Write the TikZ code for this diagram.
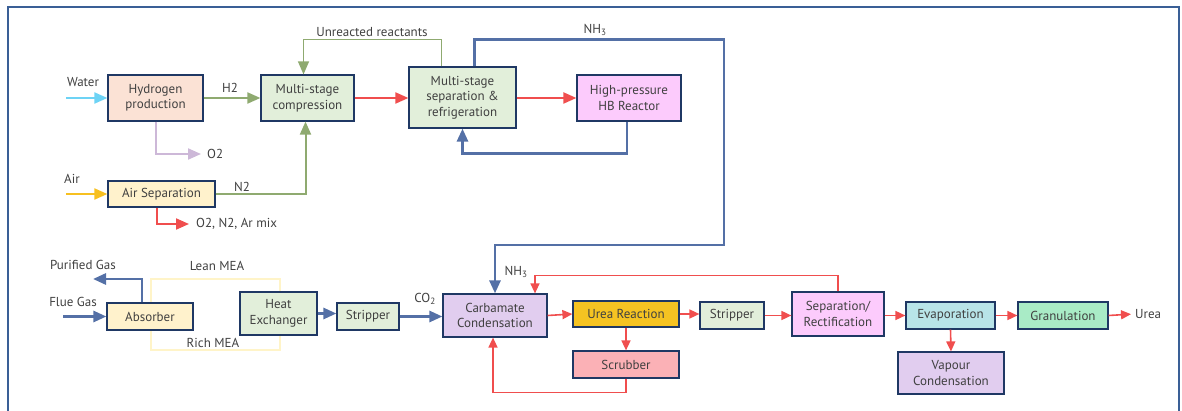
\documentclass[tikz,border=0pt]{standalone}
\usepackage{fontspec}
\setmainfont{PT Sans}
\usepackage{xcolor}
\usepackage{tikz}
\usetikzlibrary{arrows.meta,calc,positioning}
\definecolor{ureaNavy}{HTML}{1F3864}
\definecolor{ureaText}{HTML}{404040}
\definecolor{ureaFrame}{HTML}{3A5F96}
\definecolor{ureaGreen}{HTML}{8FAA70}
\definecolor{ureaRed}{HTML}{F04E4E}
\definecolor{ureaBlue}{HTML}{5470A6}
\definecolor{ureaCyan}{HTML}{6DD3F5}
\definecolor{ureaYellow}{HTML}{F7C020}
\definecolor{ureaLilac}{HTML}{CDB8D8}
\definecolor{ureaMea}{HTML}{FFF4C8}
\definecolor{fillPeach}{HTML}{FBE2D5}
\definecolor{fillGreen}{HTML}{E2EFDA}
\definecolor{fillPink}{HTML}{FCCBFC}
\definecolor{fillCream}{HTML}{FFF2CC}
\definecolor{fillLavender}{HTML}{E1CDEF}
\definecolor{fillGold}{HTML}{F5C322}
\definecolor{fillSalmon}{HTML}{FBB1B6}
\definecolor{fillTeal}{HTML}{B8E4E8}
\definecolor{fillMint}{HTML}{A9EBC6}
\tikzset{
  unit box/.style={draw=ureaNavy, line width=1.2pt, align=center,
    inner sep=0pt, text=ureaText, font=\fontsize{13}{15.5}\selectfont},
  peach box/.style={unit box, fill=fillPeach},
  green box/.style={unit box, fill=fillGreen},
  pink box/.style={unit box, fill=fillPink},
  cream box/.style={unit box, fill=fillCream},
  lavender box/.style={unit box, fill=fillLavender},
  gold box/.style={unit box, fill=fillGold},
  salmon box/.style={unit box, fill=fillSalmon},
  teal box/.style={unit box, fill=fillTeal},
  mint box/.style={unit box, fill=fillMint},
  stream label/.style={text=ureaText, inner sep=1pt,
    font=\fontsize{13}{15}\selectfont},
  big tip/.style={-{Triangle[length=13pt,width=11pt]}},
  small tip/.style={-{Triangle[length=10pt,width=9pt]}},
  gas flow/.style={big tip, line width=2pt, draw=ureaGreen, color=ureaGreen},
  hot flow/.style={big tip, line width=2pt, draw=ureaRed, color=ureaRed},
  liquid flow/.style={small tip, line width=1.6pt, draw=ureaRed, color=ureaRed},
  ammonia flow/.style={big tip, line width=2.8pt, draw=ureaBlue, color=ureaBlue},
  frame line/.style={line width=1.5pt, draw=ureaFrame}
}
\begin{document}
\begin{tikzpicture}[x=1pt,y=-1pt]
  \useasboundingbox (0,0) rectangle (1182,411);
  \draw[frame line] (8,411) -- (8,7) -- (1179,7) -- (1179,411);
  \draw[line width=2.5pt, draw=ureaMea] (151,279) rectangle (280,350);

  \node[peach box, minimum width=95pt, minimum height=46pt] (hydro) at (155.5,98)
    {Hydrogen\\production};
  \node[green box, minimum width=93pt, minimum height=46pt] (compress) at (307.5,98)
    {Multi-stage\\compression};
  \node[green box, minimum width=107pt, minimum height=61pt] (sepref) at (462.5,97.5)
    {Multi-stage\\separation \&\\refrigeration};
  \node[pink box, minimum width=104pt, minimum height=46pt] (hbreact) at (629,98)
    {High-pressure\\HB Reactor};
  \node[cream box, minimum width=107pt, minimum height=26pt] (airsep) at (161.5,194)
    {Air Separation};
  \node[cream box, minimum width=86pt, minimum height=27pt] (absorber) at (150,316.5)
    {Absorber};
  \node[green box, minimum width=77pt, minimum height=43pt] (heatex) at (278.5,313.5)
    {Heat\\Exchanger};
  \node[green box, minimum width=62pt, minimum height=27pt] (stripA) at (368,316.5)
    {Stripper};
  \node[lavender box, minimum width=104pt, minimum height=43pt] (carbamate) at (495,315.5)
    {Carbamate\\Condensation};
  \node[gold box, minimum width=106pt, minimum height=26pt] (ureareact) at (626,314)
    {Urea Reaction};
  \node[salmon box, minimum width=106pt, minimum height=27pt] (scrubber) at (626,364.5)
    {Scrubber};
  \node[green box, minimum width=64pt, minimum height=27pt] (stripB) at (732,315.5)
    {Stripper};
  \node[pink box, minimum width=92pt, minimum height=44pt] (seprect) at (838,314)
    {Separation/\\Rectification};
  \node[teal box, minimum width=89pt, minimum height=27pt] (evap) at (950.5,315.5)
    {Evaporation};
  \node[mint box, minimum width=90pt, minimum height=27pt] (gran) at (1063,315.5)
    {Granulation};
  \node[lavender box, minimum width=106pt, minimum height=42pt] (vapour) at (951,373)
    {Vapour\\Condensation};

  \node[stream label] (water) at (83,82) {Water};
  \node[stream label] (air) at (72,179) {Air};
  \node[stream label] (htwo) at (230,88) {H2};
  \node[stream label] (ntwo) at (242,187) {N2};
  \node[stream label, anchor=west] (otwo) at (206,154) {O2};
  \node[stream label, anchor=west] (airmix) at (195,224) {O2, N2, Ar mix};
  \node[stream label] (unreact) at (372,32) {Unreacted reactants};
  \node[stream label] (nhtop) at (595,30) {NH\textsubscript{3}};
  \node[stream label] (nhlow) at (516,272) {NH\textsubscript{3}};
  \node[stream label] (cotwo) at (425,299) {CO\textsubscript{2}};
  \node[stream label] (purified) at (83,265) {Purified Gas};
  \node[stream label] (flue) at (73,302) {Flue Gas};
  \node[stream label] (lean) at (217,266) {Lean MEA};
  \node[stream label] (rich) at (213,343) {Rich MEA};
  \node[stream label, anchor=west] (ureaout) at (1134,314) {Urea};

  \coordinate (wstart) at (66,98);
  \coordinate (astart) at (66,194);
  \coordinate (fstart) at (63,316.5);
  \coordinate (pend) at (93,279);
  \coordinate (nhcorner) at (724,245);

  \draw[big tip, line width=2pt, draw=ureaCyan, color=ureaCyan] (wstart) -- (hydro.west);
  \draw[big tip, line width=2pt, draw=ureaYellow, color=ureaYellow] (astart) -- (airsep.west);
  \draw[gas flow] (hydro.east) -- (compress.west);
  \draw[big tip, line width=2pt, draw=ureaLilac, color=ureaLilac, shorten >=5pt] (hydro.south) |- (otwo.west);
  \draw[gas flow] (airsep.east) -| ([xshift=-2pt]compress.south);
  \draw[hot flow, shorten >=6pt] ([xshift=-5pt]airsep.south) |- (airmix.west);
  \draw[hot flow] (compress.east) -- (compress.east -| sepref.west);
  \draw[gas flow, line width=1.3pt] ([xshift=-21pt]sepref.north) -- ++(0,-27) -| ([xshift=-4pt]compress.north);
  \draw[hot flow] (sepref.east |- hbreact.west) -- (hbreact.west);
  \draw[ammonia flow] ([xshift=-2pt]hbreact.south) -- ++(0,32) -| (sepref.south);
  \draw[ammonia flow] ([xshift=12pt]sepref.north) -- ++(0,-27) -| (nhcorner) -| (carbamate.north);

  \draw[ammonia flow] (fstart) -- (absorber.west);
  \draw[ammonia flow] ([xshift=-8pt]absorber.north) |- (pend);
  \draw[ammonia flow] (heatex.east) -- (heatex.east -| stripA.west);
  \draw[ammonia flow] (stripA.east) -- (stripA.east -| carbamate.west);

  \draw[liquid flow] (carbamate.east) -- (ureareact.west);
  \draw[liquid flow] (ureareact.south) -- (scrubber.north);
  \draw[liquid flow] (scrubber.south) -- ++(0,14) -| ([xshift=-2pt]carbamate.south);
  \draw[liquid flow] (ureareact.east) -- (ureareact.east -| stripB.west);
  \draw[liquid flow] (stripB.east) -- (stripB.east -| seprect.west);
  \draw[liquid flow, line width=1.3pt] (seprect.north) -- ++(0,-16) -| ([xshift=40pt]carbamate.north);
  \draw[liquid flow] (seprect.east |- evap.west) -- (evap.west);
  \draw[liquid flow] (evap.south) -- (vapour.north);
  \draw[liquid flow] (evap.east) -- (gran.west);
  \draw[liquid flow, shorten >=3pt] (gran.east) -- (ureaout.west);
\end{tikzpicture}
\end{document}
